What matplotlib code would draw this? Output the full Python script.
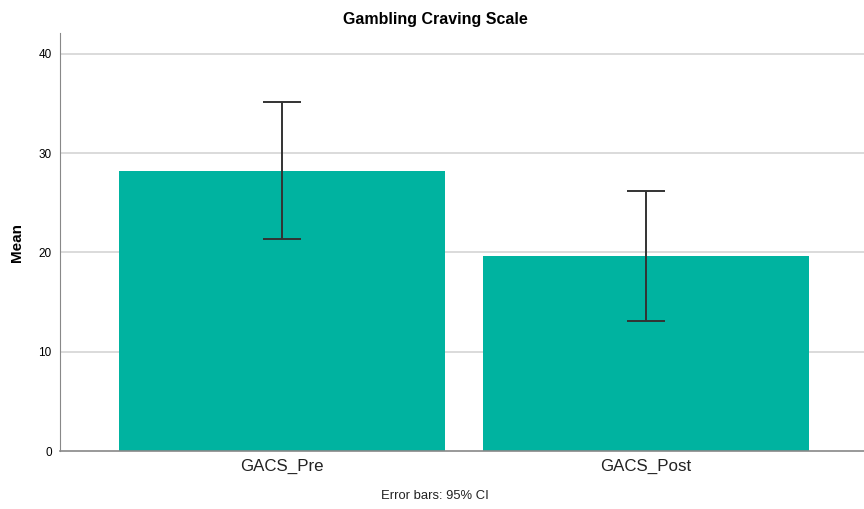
import matplotlib
matplotlib.use("Agg")
import matplotlib.pyplot as plt
import numpy as np

plt.rcParams['font.family'] = ['Liberation Sans', 'DejaVu Sans']

# data
categories = ["GACS_Pre", "GACS_Post"]
means      = [28.2, 19.6]
ci_low     = [21.4, 13.1]
ci_high    = [35.2, 26.2]
yticks     = [0, 10, 20, 30, 40]

x = np.arange(len(categories))
err = [np.array(means) - np.array(ci_low), np.array(ci_high) - np.array(means)]

fig = plt.figure(figsize=(8.64, 5.09), dpi=100)
ax = fig.add_axes([0.0694, 0.1139, 0.9306, 0.8211])

ax.set_axisbelow(True)
for t in yticks[1:]:
    ax.axhline(t, color="#d4d4d4", lw=1.2, zorder=0)

ax.bar(x, means, width=0.897, color="#00b3a0", zorder=2)
ax.errorbar(x, means, yerr=err, fmt="none", ecolor="#333333",
            elinewidth=1.4, capsize=14, capthick=1.4, zorder=3)

ax.set_xlim(-0.61, 1.60)
ax.set_ylim(0, 42.1)
ax.set_yticks(yticks)
ax.set_xticks(x)
ax.set_xticklabels(categories, fontsize=12.2, color="#222222")
ax.tick_params(axis="y", labelsize=8.5, length=0, pad=6)
ax.tick_params(axis="x", length=0, pad=6)

for s in ["top", "right"]:
    ax.spines[s].set_visible(False)
ax.spines["left"].set_color("#888888")
ax.spines["bottom"].set_color("#888888")
ax.spines["bottom"].set_linewidth(1.2)

ax.set_ylabel("Mean", fontsize=11, fontweight="bold", labelpad=10)
fig.text(0.504, 0.961, "Gambling Craving Scale", ha="center", va="center",
         fontsize=11.5, fontweight="bold")
fig.text(0.503, 0.025, "Error bars: 95% CI", ha="center", va="center",
         fontsize=9.4, color="#222222")

fig.savefig("out.png", dpi=100)
